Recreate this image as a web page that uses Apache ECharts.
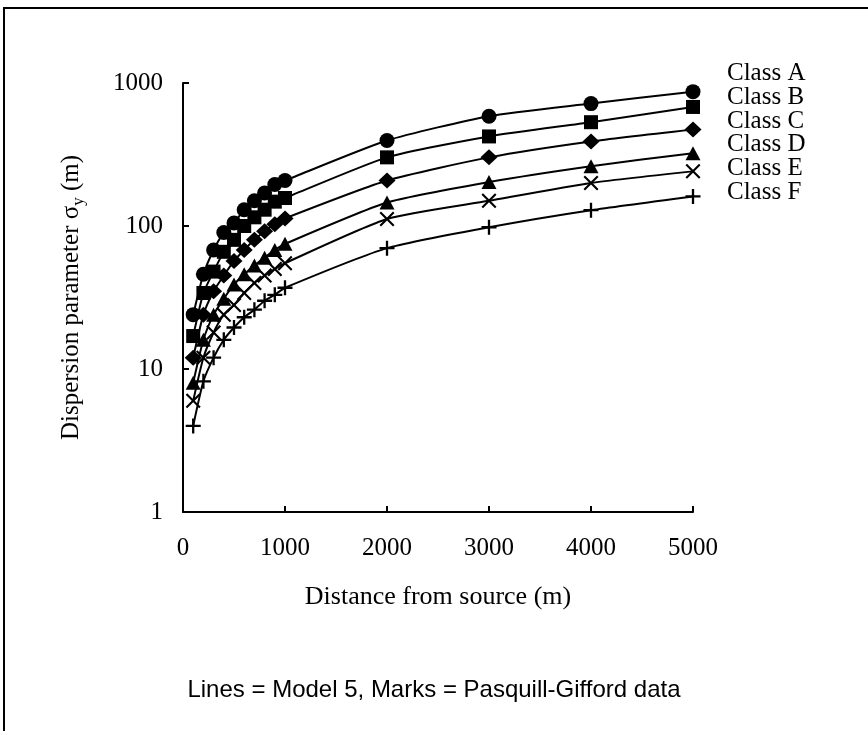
<!DOCTYPE html>
<html>
<head>
<meta charset="utf-8">
<script src="https://cdn.jsdelivr.net/npm/echarts@6/dist/echarts.min.js"></script>
<style>
  html, body { margin: 0; padding: 0; background: #fff; }
  #chart { width: 868px; height: 731px; }
</style>
</head>
<body>
<div id="chart"></div>
<script>
// distances (m)
var distances = [100, 200, 300, 400, 500, 600, 700, 800, 900, 1000, 2000, 3000, 4000, 5000];
var classNames = ["Class A", "Class B", "Class C", "Class D", "Class E", "Class F"];
// sigma_y (m) per stability class
var classA = [24, 46, 68, 90, 105, 130, 150, 170, 195, 208, 396, 586, 718, 870];
var classB = [17, 34, 48, 66, 80, 100, 115, 130, 148, 157, 302, 423, 532, 680];
var classC = [12, 24, 35, 45, 57, 68, 80, 92, 103, 113, 208, 302, 390, 473];
var classD = [8, 16, 24, 31, 39, 46, 53, 60, 68, 75, 146, 203, 262, 323];
var classE = [6, 12, 18, 24, 28, 34, 40, 45, 50, 55, 112, 150, 200, 241];
var classF = [4, 8.2, 12, 16, 19.5, 23, 26, 30, 33, 37, 70, 98, 129, 161];
var xTicks = [0, 1000, 2000, 3000, 4000, 5000];

var plusPath = "path://M5.5,0 H7.5 V5.5 H13 V7.5 H7.5 V13 H5.5 V7.5 H0 V5.5 H5.5 Z";
var crossPath = "path://M0,1.3 L1.3,0 L6.5,5.2 L11.7,0 L13,1.3 L7.8,6.5 L13,11.7 L11.7,13 L6.5,7.8 L1.3,13 L0,11.7 L5.2,6.5 Z";

var allData = [classA, classB, classC, classD, classE, classF];
var symbols = ["circle", "rect", "diamond", "triangle", crossPath, plusPath];
var sizes = [15, 14, [17, 16], [15, 14], 15, 15];

function pairs(vals) {
  return distances.map(function (d, i) { return [d, vals[i]]; });
}

var serif = "'Liberation Serif', 'DejaVu Serif', serif";

var myChart = echarts.init(document.getElementById("chart"));
myChart.setOption({
  animation: false,
  backgroundColor: "#fff",
  grid: { left: 183, right: 175, top: 83, bottom: 219 },
  legend: {
    orient: "vertical",
    left: 717,
    top: 56,
    icon: "none",
    itemWidth: 0,
    itemHeight: 24,
    itemGap: -1.2,
    selectedMode: false,
    textStyle: { fontFamily: serif, fontSize: 25, lineHeight: 24.4, color: "#000" },
    data: classNames
  },
  xAxis: {
    type: "value",
    min: 0,
    max: 5000,
    interval: 1000,
    name: "Distance from source (m)",
    nameLocation: "middle",
    nameGap: 72,
    nameTextStyle: { fontFamily: serif, fontSize: 26, color: "#000" },
    axisLine: { lineStyle: { color: "#000", width: 2 } },
    axisTick: { show: true, inside: true, length: 6, lineStyle: { color: "#000", width: 2 } },
    axisLabel: {
      margin: 24,
      fontFamily: serif, fontSize: 25, color: "#000",
      formatter: function (v) { return xTicks.indexOf(v) >= 0 ? String(v) : ""; }
    },
    splitLine: { show: false }
  },
  yAxis: {
    type: "log",
    logBase: 10,
    min: 1,
    max: 1000,
    name: "Dispersion parameter σ{sub|y} (m)",
    nameLocation: "middle",
    nameGap: 96,
    nameTextStyle: {
      fontFamily: serif, fontSize: 25, color: "#000",
      rich: { sub: { fontFamily: serif, fontSize: 17, color: "#000", verticalAlign: "top", padding: [14, 0, 0, 0] } }
    },
    axisLine: { show: true, lineStyle: { color: "#000", width: 2 } },
    axisTick: { show: true, inside: true, length: 6, lineStyle: { color: "#000", width: 2 } },
    axisLabel: {
      margin: 20, fontFamily: serif, fontSize: 25, color: "#000",
      formatter: function (v) { return String(Math.round(v)); }
    },
    splitLine: { show: false },
    minorTick: { show: false }
  },
  graphic: [
    {
      type: "rect",
      shape: { x: 4, y: 8, width: 1000, height: 1000 },
      style: { fill: "none", stroke: "#000", lineWidth: 2 },
      silent: true
    },
    {
      type: "text",
      left: "center",
      top: 678,
      style: {
        text: "Lines = Model 5, Marks = Pasquill-Gifford data",
        fontFamily: "'Liberation Sans', Arial, sans-serif",
        fontSize: 24,
        fill: "#000"
      }
    }
  ],
  series: classNames.map(function (name, k) {
    return {
      name: name,
      type: "line",
      smooth: 0.2,
      data: pairs(allData[k]),
      symbol: symbols[k],
      symbolSize: sizes[k],
      showAllSymbol: true,
      lineStyle: { color: "#000", width: 2 },
      itemStyle: { color: "#000", borderWidth: 0 },
      z: 2
    };
  })
});
</script>
</body>
</html>
